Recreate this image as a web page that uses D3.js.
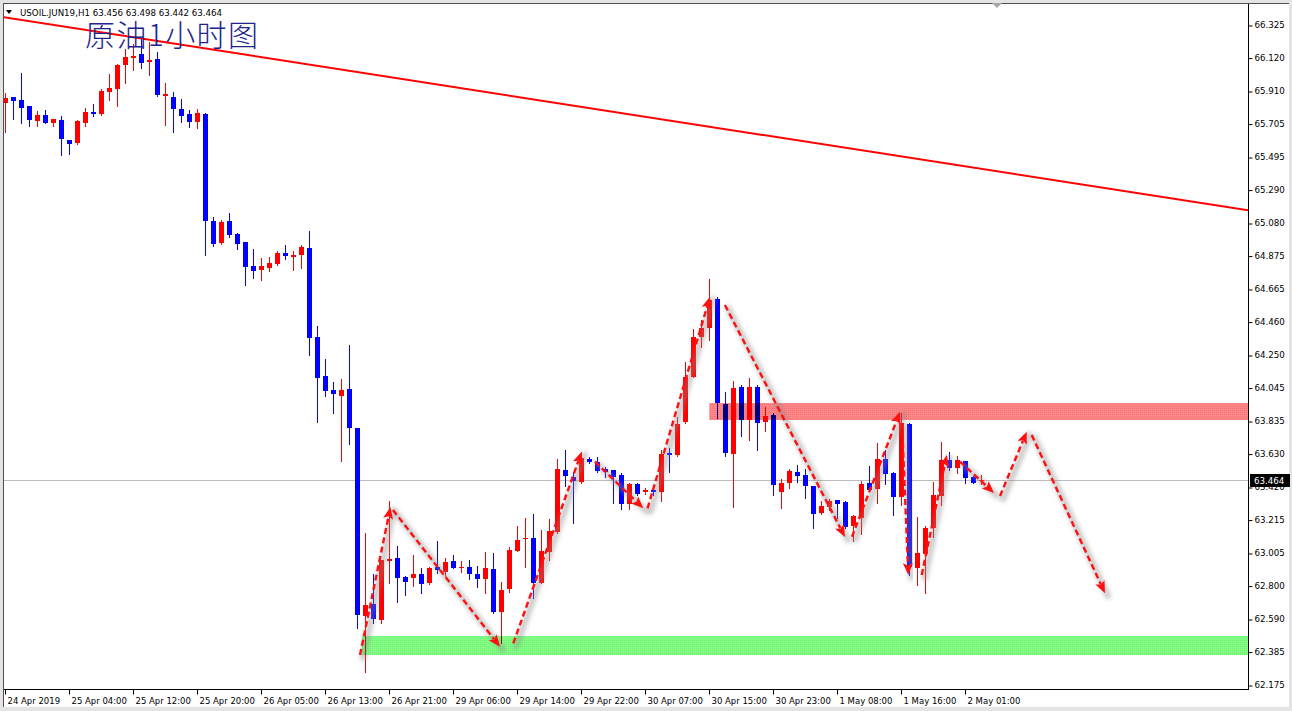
<!DOCTYPE html>
<html><head><meta charset="utf-8">
<script src="https://cdn.jsdelivr.net/npm/d3@7"></script>
<style>html,body{margin:0;padding:0;background:#fff;overflow:hidden}svg{display:block}</style>
</head><body>
<svg id="c" width="1292" height="711"></svg>
<script>
// ---------- DATA ----------
const opens = [65.832,65.870,65.853,65.816,65.723,65.759,65.711,65.727,65.602,65.581,65.711,65.780,65.765,65.904,65.922,66.073,66.119,66.141,66.094,66.111,65.878,65.874,65.797,65.765,65.717,65.765,65.092,64.956,65.092,65.013,64.960,64.809,64.784,64.797,64.822,64.893,64.868,64.879,64.921,64.365,64.120,64.030,63.994,64.036,63.791,62.609,62.684,62.583,62.956,62.975,62.856,62.849,62.873,62.814,62.919,62.887,62.954,62.909,62.919,62.873,62.841,62.904,62.632,62.777,63.019,63.091,63.101,62.818,63.013,63.139,63.527,63.485,63.453,63.594,63.579,63.531,63.527,63.495,63.313,63.439,63.390,63.401,63.390,63.634,63.621,63.830,64.113,64.361,64.421,64.602,63.942,63.627,64.051,63.841,64.051,63.830,63.873,63.390,63.443,63.516,63.495,63.426,63.258,63.294,63.338,63.324,63.175,63.227,63.443,63.407,63.596,63.510,63.355,63.814,62.909,62.997,63.164,63.363,63.590,63.541,63.583,63.481,63.456];
const highs = [65.897,65.872,66.025,65.818,65.784,65.790,65.736,65.753,65.604,65.727,65.801,65.828,65.921,66.017,66.080,66.174,66.205,66.251,66.220,66.157,65.962,65.905,65.860,65.790,65.797,65.773,65.119,65.098,65.145,65.019,64.962,64.916,64.858,64.868,64.906,64.941,64.906,64.941,65.030,64.432,64.225,64.078,64.099,64.313,63.793,63.132,62.873,62.963,63.332,63.049,62.860,62.992,62.909,62.919,63.080,62.975,62.992,62.956,62.961,62.925,63.013,63.007,62.824,63.044,63.175,63.223,63.248,63.149,63.217,63.594,63.652,63.512,63.642,63.607,63.610,63.547,63.529,63.510,63.443,63.445,63.412,63.426,63.652,63.663,63.858,64.208,64.411,64.470,64.728,64.616,64.017,64.086,64.061,64.107,64.061,63.925,63.885,63.468,63.531,63.558,63.531,63.428,63.334,63.342,63.341,63.332,63.244,63.459,63.552,63.698,63.652,63.512,63.883,63.824,63.233,63.175,63.453,63.705,63.642,63.615,63.585,63.489,63.498];
const lows = [65.652,65.734,65.711,65.690,65.690,65.709,65.690,65.507,65.516,65.577,65.690,65.753,65.761,65.853,65.817,65.962,66.042,66.054,66.010,65.880,65.696,65.654,65.717,65.685,65.675,64.879,64.937,64.948,64.994,64.914,64.690,64.736,64.721,64.780,64.818,64.855,64.784,64.797,64.250,63.830,63.994,63.887,63.585,63.688,62.531,62.258,62.563,62.563,62.814,62.699,62.741,62.799,62.755,62.810,62.877,62.860,62.909,62.887,62.841,62.793,62.755,62.626,62.437,62.761,63.017,62.919,62.720,62.814,62.961,63.129,63.428,63.195,63.447,63.573,63.516,63.481,63.321,63.280,63.280,63.370,63.376,63.369,63.332,63.516,63.617,63.822,64.110,64.302,64.344,63.852,63.615,63.296,63.741,63.715,63.652,63.772,63.370,63.290,63.412,63.453,63.349,63.160,63.250,63.275,63.223,63.162,63.082,63.124,63.398,63.321,63.439,63.244,63.307,62.867,62.804,62.755,63.107,63.307,63.527,63.506,63.447,63.445,63.442];
const closes = [65.864,65.849,65.805,65.727,65.759,65.711,65.734,65.608,65.578,65.721,65.778,65.767,65.912,65.927,66.073,66.126,66.130,66.088,66.105,65.885,65.891,65.797,65.753,65.717,65.770,65.094,64.948,65.084,65.004,64.948,64.805,64.780,64.809,64.830,64.893,64.872,64.879,64.929,64.355,64.107,64.025,64.006,64.030,63.793,62.615,62.678,62.590,62.961,62.967,62.849,62.824,62.873,62.808,62.909,62.898,62.950,62.912,62.919,62.873,62.841,62.909,62.632,62.772,63.024,63.087,63.097,62.818,63.017,63.143,63.531,63.491,63.459,63.600,63.579,63.522,63.514,63.481,63.313,63.439,63.376,63.399,63.386,63.627,63.624,63.816,64.113,64.365,64.421,64.596,63.946,63.635,64.044,63.841,64.051,63.824,63.868,63.432,63.447,63.520,63.491,63.428,63.250,63.300,63.332,63.313,63.170,63.237,63.439,63.401,63.596,63.502,63.359,63.820,62.919,63.007,63.164,63.369,63.590,63.537,63.590,63.478,63.447,63.464];

const xTickIndex = [0,8,16,24,32,40,48,56,64,72,80,88,96,104,112,120];
const xTickLabels = ["24 Apr 2019","25 Apr 04:00","25 Apr 12:00","25 Apr 20:00","26 Apr 05:00","26 Apr 13:00","26 Apr 21:00","29 Apr 06:00","29 Apr 14:00","29 Apr 22:00","30 Apr 07:00","30 Apr 15:00","30 Apr 23:00","1 May 08:00","1 May 16:00","2 May 01:00"];
const yTickValues = [66.325,66.120,65.910,65.705,65.495,65.290,65.080,64.875,64.665,64.460,64.250,64.045,63.835,63.630,63.420,63.215,63.005,62.800,62.590,62.385,62.175];
const lastPrice = 63.464;
const headerText = "USOIL.JUN19,H1  63.456 63.498 63.442 63.464";
const titleText = "原油1小时图";

// drawing objects: [barIndex, price]
const trendLine = [[0, 66.373], [155.33, 65.160]];
const resistanceZone = [88, 63.948, 63.841];   // from bar, top price, bottom price
const supportZone = [44.55, 62.483, 62.363];
const arrowStarts = [[44.34,62.364],[48.46,63.275],[63.5,62.437],[73.71,63.579],[80.28,63.286],[89.96,64.564],[105.84,63.107],[112.09,63.822],[114.55,62.867],[119.34,63.580],[124.34,63.363],[128.3,63.747]];
const arrowEnds   = [[48.15,63.294],[61.84,62.416],[72.05,63.642],[79.75,63.286],[88.09,64.617],[104.96,63.105],[111.84,63.893],[112.88,62.867],[117.68,63.621],[123.59,63.382],[127.68,63.768],[137.46,62.752]];

// ---------- LAYOUT ----------
const W = 1292, H = 711;
const L = 4, T = 4, R = 1248, B = 689;
const x = d3.scaleLinear().domain([0, 155]).range([5.3, 5.3 + 8 * 155]);
const y = d3.scaleLinear().domain([62.175, 66.325]).range([685, 25]);

const svg = d3.select('#c');
const defs = svg.append('defs');
defs.append('clipPath').attr('id','plot').append('rect').attr('x',L).attr('y',T).attr('width',R-L).attr('height',B-T);
const blur = defs.append('filter').attr('id','blur').attr('x','-20%').attr('y','-20%').attr('width','140%').attr('height','140%');
blur.append('feGaussianBlur').attr('stdDeviation',2.2);
function dotPattern(id, base, dot){
  const p = defs.append('pattern').attr('id',id).attr('width',2).attr('height',2).attr('patternUnits','userSpaceOnUse');
  p.append('rect').attr('width',2).attr('height',2).attr('fill',base);
  p.append('rect').attr('width',1).attr('height',1).attr('fill',dot);
}
dotPattern('pinkDots','#ff8686','#f27474');
dotPattern('greenDots','#84ff84','#70ee78');

// frame
svg.append('rect').attr('width',W).attr('height',H).attr('fill','#e4e4e4');
svg.append('rect').attr('x',3).attr('y',3).attr('width',1286).attr('height',704).attr('fill','#ffffff');
svg.append('line').attr('x1',3.5).attr('x2',3.5).attr('y1',3).attr('y2',707).attr('stroke','#505050');
svg.append('line').attr('x1',3).attr('x2',1289).attr('y1',3.5).attr('y2',3.5).attr('stroke','#505050');

const plot = svg.append('g').attr('clip-path','url(#plot)');

// current price line
plot.append('line').attr('x1',L).attr('x2',R).attr('y1',Math.round(y(lastPrice))+0.5).attr('y2',Math.round(y(lastPrice))+0.5)
  .attr('stroke','#bdbdbd').attr('stroke-width',1);

// candles
const idx = d3.range(opens.length);
const cg = plot.append('g').attr('shape-rendering','crispEdges');
const colorOf = i => closes[i] >= opens[i] ? '#ff0000' : '#0000ff';
cg.selectAll('line.w').data(idx).join('line').attr('class','w')
  .attr('x1', i => Math.round(x(i)) + 0.5).attr('x2', i => Math.round(x(i)) + 0.5)
  .attr('y1', i => Math.round(y(highs[i]))).attr('y2', i => Math.round(y(lows[i])) + 1)
  .attr('stroke', colorOf).attr('stroke-width',1);
cg.selectAll('rect.b').data(idx).join('rect').attr('class','b')
  .attr('x', i => Math.round(x(i)) - 2).attr('width', 5)
  .attr('y', i => Math.round(y(Math.max(opens[i], closes[i]))))
  .attr('height', i => Math.max(1, Math.round(y(Math.min(opens[i], closes[i]))) - Math.round(y(Math.max(opens[i], closes[i])))))
  .attr('fill', colorOf);

// zones (blended over candles like the original)
[[resistanceZone,'url(#pinkDots)'],[supportZone,'url(#greenDots)']].forEach(([z,fill])=>{
  plot.append('rect').attr('x', x(z[0])).attr('y', y(z[1])).attr('width', R - x(z[0])).attr('height', y(z[2]) - y(z[1]))
    .attr('fill', fill).style('mix-blend-mode','multiply');
});

// trend line
const tl = d3.scaleLinear().domain([trendLine[0][0], trendLine[1][0]]).range([trendLine[0][1], trendLine[1][1]]);
plot.append('line').attr('x1', x(-2)).attr('y1', y(tl(-2))).attr('x2', x(160)).attr('y2', y(tl(160)))
  .attr('stroke','#ff0000').attr('stroke-width',2);

// arrows
const ag = plot.append('g');
arrowStarts.forEach((s,k)=>{
  const e = arrowEnds[k];
  const x0 = x(s[0]), y0 = y(s[1]), x1 = x(e[0]), y1 = y(e[1]);
  const dx = x1-x0, dy = y1-y0, len = Math.hypot(dx,dy), ux = dx/len, uy = dy/len;
  const hl = 12, hw = 5;
  const bx = x1 - ux*hl, by = y1 - uy*hl;
  ag.append('line').attr('x1',x0+3).attr('y1',y0+3).attr('x2',x1+3).attr('y2',y1+3)
    .attr('stroke','#8a8a8a').attr('stroke-width',6).attr('stroke-linecap','round').attr('opacity',0.45).attr('filter','url(#blur)');
  ag.append('line').attr('x1',x0).attr('y1',y0).attr('x2',bx+ux*2).attr('y2',by+uy*2)
    .attr('stroke','#ff1010').attr('stroke-width',2.4).attr('stroke-dasharray','6,3.5');
  ag.append('polygon').attr('points', [[x1,y1],[bx - uy*hw, by + ux*hw],[bx + ux*2.5, by + uy*2.5],[bx + uy*hw, by - ux*hw]].map(p=>p.join(',')).join(' '))
    .attr('fill','#ff1010');
});

// axes
const font = "DejaVu Sans, Verdana, sans-serif";
svg.append('line').attr('x1',R+0.5).attr('x2',R+0.5).attr('y1',T).attr('y2',B+1).attr('stroke','#000');
svg.append('line').attr('x1',L).attr('x2',R+1).attr('y1',B+0.5).attr('y2',B+0.5).attr('stroke','#000');

const yAxis = svg.append('g').attr('transform',`translate(${R+0.5},0)`)
  .call(d3.axisRight(y).tickValues(yTickValues).tickFormat(d3.format('.3f')).tickSize(4).tickPadding(2));
yAxis.select('.domain').remove();
yAxis.selectAll('line').attr('stroke','#000').attr('transform','translate(0,0.5)');
yAxis.selectAll('text').attr('font-family',font).attr('font-size',8.7).attr('fill','#000');
// the last-price box hides the neighbouring tick label partially, as in the original
const ly = Math.round(y(lastPrice));
svg.append('rect').attr('x',R+2).attr('y',ly-6).attr('width',40).attr('height',13).attr('fill','#000');
svg.append('text').attr('x',R+6).attr('y',ly+4).attr('font-family',font).attr('font-size',8.7).attr('fill','#fff').text(lastPrice.toFixed(3));

const xAxis = svg.append('g').attr('transform',`translate(0,${B+0.5})`)
  .call(d3.axisBottom(x).tickValues(xTickIndex).tickFormat((d,i)=>xTickLabels[i]).tickSize(5).tickPadding(3));
xAxis.select('.domain').remove();
xAxis.selectAll('.tick').attr('transform', d => `translate(${Math.round(x(d))+0.5},0)`);
xAxis.selectAll('line').attr('stroke','#000');
xAxis.selectAll('text').attr('font-family',font).attr('font-size',8.5).attr('fill','#000').attr('text-anchor','start').attr('x',2);

// shift marker
svg.append('polygon').attr('points','992,3 1002,3 997,8').attr('fill','#a8a8a8');

// header
svg.append('polygon').attr('points','6,10 12,10 9,14').attr('fill','#000');
svg.append('text').attr('x',20).attr('y',16).attr('font-family',font).attr('font-size',8.7).attr('fill','#000')
  .attr('textLength',202).attr('lengthAdjust','spacingAndGlyphs').text(headerText);
svg.append('text').attr('x',85).attr('y',46).attr('font-family','"Noto Sans CJK SC", sans-serif').attr('font-size',30).attr('font-weight',300)
  .attr('fill','#23238e').attr('textLength',173).attr('lengthAdjust','spacing').text(titleText);
</script>
</body></html>
